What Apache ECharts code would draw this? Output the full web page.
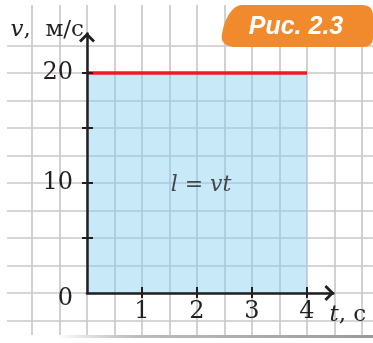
<!DOCTYPE html>
<html>
<head>
<meta charset="utf-8">
<script src="https://cdn.jsdelivr.net/npm/echarts@6/dist/echarts.min.js"></script>
<style>
  html, body { margin: 0; padding: 0; background: #ffffff; }
  #chart { width: 373px; height: 343px; }
</style>
</head>
<body>
<div id="chart"></div>
<script>
// Uniform motion: speed stays at 20 m/s from t = 0 to t = 4 s
const timeS = [0, 4];
const speedMS = [20, 20];

// axis ticks and labels
const xTickValues = [1, 2, 3, 4];
const xLabelValues = [1, 2, 3, 4];
const yTickValues = [5, 10, 15, 20];
const yLabelValues = [0, 10, 20];

// texts
const xAxisName = '{i|t}, с';
const yAxisName = '{i|v},  м/с';
const areaFormula = '{i|l} = {i|vt}';
const areaFormulaAt = [2, 10];
const figureCaption = 'Рис. 2.3';

// ---- layout (pixels) ----
const X0 = 87, Y0 = 293;        // origin
const PX_T = 55, PX_V = 11;     // px per second, px per m/s
const X_END = 4.48, Y_END = 23.6; // where the arrows end

const ink = '#231f20';
const serif = 'DejaVu Serif';
const numFont = 'DejaVu Serif';
const numSize = 24;
const nameSize = 23;
const paperLine = { color: '#c9c9c9', width: 1.7 };
const arrowPath = 'path://M8,0L16,8L14,10L8,4L2,10L0,8Z';

// caption badge outline: straight runs plus bezier corners, sampled to a polygon
function badgeOutline() {
  const pts = [];
  const quad = (p0, c, p1) => {
    for (let k = 1; k <= 8; k++) {
      const t = k / 8, u = 1 - t;
      pts.push([u * u * p0[0] + 2 * u * t * c[0] + t * t * p1[0],
                u * u * p0[1] + 2 * u * t * c[1] + t * t * p1[1]]);
    }
  };
  const cubic = (p0, c1, c2, p1) => {
    for (let k = 1; k <= 12; k++) {
      const t = k / 12, u = 1 - t;
      pts.push([u * u * u * p0[0] + 3 * u * u * t * c1[0] + 3 * u * t * t * c2[0] + t * t * t * p1[0],
                u * u * u * p0[1] + 3 * u * u * t * c1[1] + 3 * u * t * t * c2[1] + t * t * t * p1[1]]);
    }
  };
  pts.push([242, 5], [362, 5]);
  quad([362, 5], [373, 5], [373, 16]);
  pts.push([373, 37]);
  quad([373, 37], [373, 47], [363, 47]);
  pts.push([236, 47]);
  cubic([236, 47], [226, 47], [220, 42], [222, 34]);
  cubic([222, 34], [224, 20], [232, 5], [242, 5]);
  return pts;
}

const chart = echarts.init(document.getElementById('chart'), null, { renderer: 'canvas' });

const hidden = {
  axisLine: { show: false }, axisTick: { show: false },
  axisLabel: { show: false }, splitLine: { show: false }
};

const option = {
  animation: false,
  backgroundColor: '#ffffff',
  grid: [
    // 0: main plot
    { left: X0, top: Y0 - Y_END * PX_V, width: X_END * PX_T, height: Y_END * PX_V,
      outerBoundsMode: 'none', containLabel: false },
    // 1: squared paper, vertical rules
    { left: X0 - 1.5 * PX_T, top: 5, width: 7 * PX_T, height: 330,
      outerBoundsMode: 'none', containLabel: false },
    // 2: squared paper, horizontal rules
    { left: 7, top: Y0 - 22.5 * PX_V, width: 400, height: 25 * PX_V,
      outerBoundsMode: 'none', containLabel: false }
  ],
  xAxis: [
    { // main time axis
      type: 'value', gridIndex: 0, min: 0, max: X_END, position: 'bottom', z: 6,
      name: xAxisName, nameLocation: 'end', nameGap: -4, nameMoveOverlap: false,
      nameTextStyle: {
        fontFamily: serif, fontSize: nameSize, color: ink, align: 'left', verticalAlign: 'middle',
        padding: [44, 0, 0, 0],
        rich: { i: { fontStyle: 'italic', fontFamily: serif, fontSize: nameSize, color: ink } }
      },
      axisLine: { show: true, onZero: false, lineStyle: { color: ink, width: 2.5 },
        symbol: ['none', arrowPath], symbolSize: [16, 10], symbolOffset: [0, -4] },
      axisTick: { show: false },
      axisLabel: { show: true, customValues: xLabelValues, margin: 7,
        fontFamily: numFont, fontSize: numSize, color: ink },
      splitLine: { show: false }
    },
    { // crossing tick marks on the time axis
      type: 'value', gridIndex: 0, min: 0, max: X_END, position: 'bottom', offset: 5, z: 6,
      axisLine: { show: false, onZero: false },
      axisTick: { show: true, inside: true, length: 11, customValues: xTickValues,
        lineStyle: { color: ink, width: 2 } },
      axisLabel: { show: false }, splitLine: { show: false }
    },
    { // paper vertical rules
      type: 'value', gridIndex: 1, min: -1.5, max: 5.5, interval: 0.5,
      axisLine: { show: false }, axisTick: { show: false }, axisLabel: { show: false },
      splitLine: { show: true, showMinLine: false, lineStyle: paperLine }
    },
    Object.assign({ type: 'value', gridIndex: 2, min: 0, max: 1 }, hidden)
  ],
  yAxis: [
    { // main speed axis
      type: 'value', gridIndex: 0, min: 0, max: Y_END, position: 'left', z: 6,
      name: yAxisName, nameLocation: 'end', nameGap: -8, nameMoveOverlap: false,
      nameTextStyle: {
        fontFamily: serif, fontSize: nameSize, color: ink, align: 'right', verticalAlign: 'bottom',
        padding: [0, 3, 0, 0],
        rich: { i: { fontStyle: 'italic', fontFamily: serif, fontSize: nameSize, color: ink } }
      },
      axisLine: { show: true, onZero: false, lineStyle: { color: ink, width: 2.5 },
        symbol: ['none', arrowPath], symbolSize: [16, 10], symbolOffset: [0, -4] },
      axisTick: { show: false },
      axisLabel: {
        show: true, customValues: yLabelValues, margin: 14,
        fontFamily: numFont, fontSize: numSize, color: ink,
        formatter: v => (v === 0 ? '{o|0}' : String(v)),
        rich: { o: { fontFamily: numFont, fontSize: numSize, color: ink, padding: [12, 0, 0, 0] } }
      },
      splitLine: { show: false }
    },
    { // crossing tick marks on the speed axis
      type: 'value', gridIndex: 0, min: 0, max: Y_END, position: 'left', offset: 5, z: 6,
      axisLine: { show: false, onZero: false },
      axisTick: { show: true, inside: true, length: 11, customValues: yTickValues,
        lineStyle: { color: ink, width: 2 } },
      axisLabel: { show: false }, splitLine: { show: false }
    },
    Object.assign({ type: 'value', gridIndex: 1, min: 0, max: 1 }, hidden),
    { // paper horizontal rules
      type: 'value', gridIndex: 2, min: -2.5, max: 22.5, interval: 2.5,
      axisLine: { show: false }, axisTick: { show: false }, axisLabel: { show: false },
      splitLine: { show: true, lineStyle: paperLine }
    }
  ],
  series: [
    { // v(t) line with the distance area under it
      type: 'line', xAxisIndex: 0, yAxisIndex: 0, z: 4, silent: true,
      data: timeS.map((t, i) => [t, speedMS[i]]),
      symbol: 'none',
      lineStyle: { color: '#ed1c24', width: 3.5 },
      areaStyle: { color: 'rgb(129,205,239)', opacity: 0.44 }
    },
    { // formula inside the area
      type: 'scatter', xAxisIndex: 0, yAxisIndex: 0, z: 5, silent: true,
      data: [areaFormulaAt], symbolSize: 1, itemStyle: { color: 'transparent' },
      label: {
        show: true, position: 'inside', offset: [4, 2], formatter: areaFormula,
        fontFamily: serif, fontSize: 22, color: ink,
        rich: { i: { fontStyle: 'italic', fontFamily: serif, fontSize: 22, color: ink } }
      }
    }
  ],
  graphic: [
    { type: 'polygon', z: 10, shape: { points: badgeOutline() },
      style: { fill: '#f18a2c' } },
    { type: 'text', z: 11, x: 296, y: 27,
      style: { text: figureCaption, fill: '#ffffff', font: 'italic bold 25px "Liberation Sans"',
        align: 'center', verticalAlign: 'middle' } },
    { type: 'rect', z: 10, shape: { x: 57, y: 335, width: 316, height: 3 },
      style: { fill: {
        type: 'linear', x: 0, y: 0, x2: 1, y2: 0,
        colorStops: [
          { offset: 0, color: 'rgba(170,170,170,0)' },
          { offset: 0.25, color: '#bdbdbd' },
          { offset: 1, color: '#9a9a9a' }
        ]
      } } }
  ]
};

chart.setOption(option);
</script>
</body>
</html>
